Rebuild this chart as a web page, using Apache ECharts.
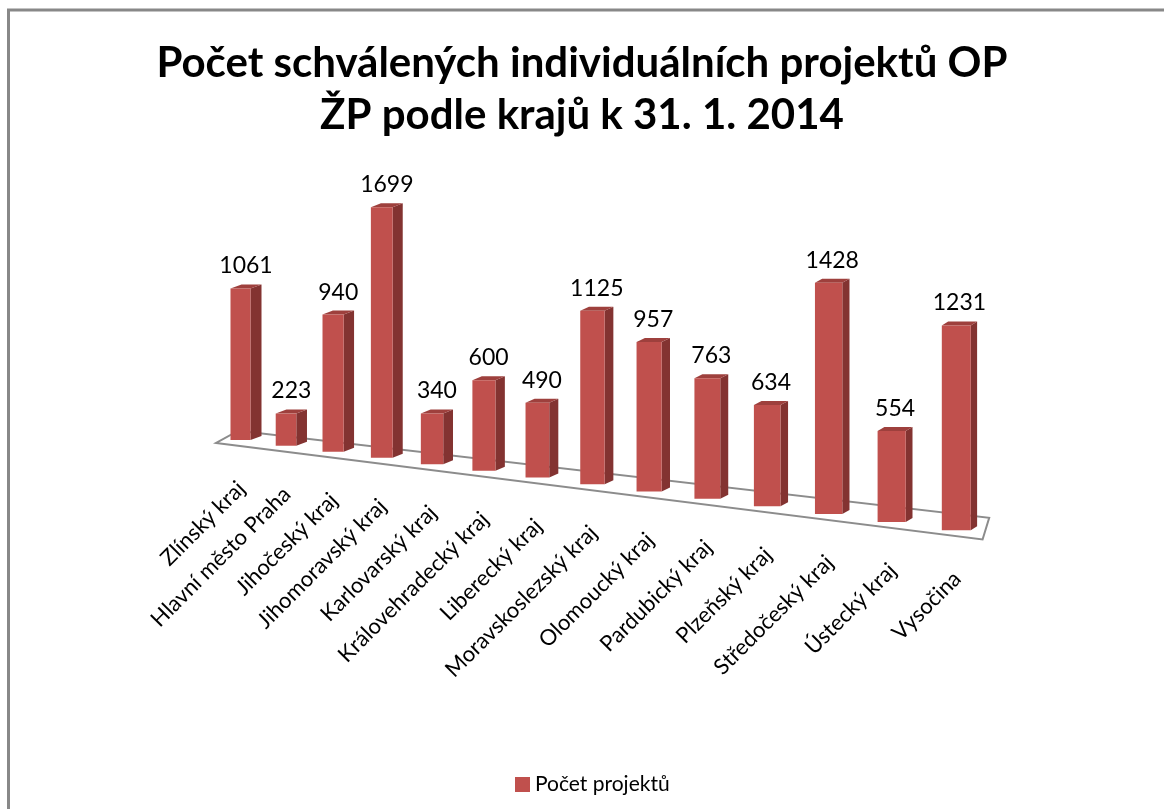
<!DOCTYPE html>
<html><head><meta charset="utf-8">
<script src="https://cdn.jsdelivr.net/npm/echarts@6/dist/echarts.min.js"></script>
<style>html,body{margin:0;padding:0;background:#fff;}#c{width:1164px;height:809px;}</style>
</head><body><div id="c"></div>
<script>
var categories = ['Zlínský kraj','Hlavní město Praha','Jihočeský kraj','Jihomoravský kraj','Karlovarský kraj','Královehradecký kraj','Liberecký kraj','Moravskoslezský kraj','Olomoucký kraj','Pardubický kraj','Plzeňský kraj','Středočeský kraj','Ústecký kraj','Vysočina'];
var values = [1061,223,940,1699,340,600,490,1125,957,763,634,1428,554,1231];
var seriesName = 'Počet projektů';

var FONT = 'Lato, "Open Sans", "Liberation Sans", sans-serif';
var chart = echarts.init(document.getElementById('c'));

// perspective helpers (pixel space, derived from the library's coords)
var SLOPE = 0.126;
function persp(api, i, v) {
  var p0 = api.coord([0, 0]);
  var pb = api.coord([i, 0]);
  var pv = api.coord([i, v]);
  var lin = pb[0] - p0[0];
  var dx = 0.8127 * lin + 0.0002635 * lin * lin;
  var x = p0[0] + dx;
  var baseY = pb[1] + dx * SLOPE;
  var scale = 1 + dx * 0.00023;
  var h = (pb[1] - pv[1]) * scale;
  return {x: x, baseY: baseY, topY: baseY - h, dx: dx};
}

var barData = values.map(function (v, i) { return [i, v]; });

chart.setOption({
  animation: false,
  title: {
    text: 'Počet schválených individuálních projektů OP\nŽP podle krajů k 31. 1. 2014',
    left: 'center', top: 37, padding: [0, 0, 0, 26],
    textStyle: {fontFamily: FONT, fontWeight: 'bold', fontSize: 42, lineHeight: 52, color: '#000'}
  },
  legend: {
    data: [seriesName], left: 510, top: 769, icon: 'rect', itemWidth: 15, itemHeight: 15, itemGap: 8,
    textStyle: {fontFamily: FONT, fontSize: 21, color: '#000'}
  },
  grid: {left: 202, width: 792, bottom: 369, top: 183},
  xAxis: {type: 'value', min: -0.7, max: 13.7, show: false},
  yAxis: {type: 'value', min: 0, max: 1800, show: false},
  graphic: [{
    type: 'rect', silent: true, z: 100,
    shape: {x: 8.5, y: 10, width: 2000, height: 2000},
    style: {fill: 'none', stroke: '#888888', lineWidth: 3}
  }],
  series: [{
    type: 'custom', name: 'floor', silent: true, z: 1,
    data: [[0, 0]],
    renderItem: function (params, api) {
      var fl = persp(api, -0.55, 0), fr = persp(api, 13.4, 0);
      var bl = persp(api, -0.05, 0), br = persp(api, 13.5, 0);
      var pts = [
        [fl.x, fl.baseY + 6],
        [fr.x, fr.baseY + 6],
        [br.x, br.baseY - 9 - br.dx * 0.01],
        [bl.x, bl.baseY - 9]
      ];
      return {type: 'polygon', shape: {points: pts},
        style: {fill: '#ffffff', stroke: '#8c8c8c', lineWidth: 2}};
    }
  }, {
    type: 'custom', name: seriesName, z: 2,
    itemStyle: {color: '#C0504D'},
    data: barData,
    renderItem: function (params, api) {
      var i = api.value(0), v = api.value(1);
      var p = persp(api, i, v);
      var w = 20 + p.dx * 0.0125;
      var d = 11 - p.dx * 0.0065;
      var dy = 4;
      var L = p.x - w / 2, R = p.x + w / 2;
      var children = [
        {type: 'polygon', shape: {points: [[R, p.baseY], [R, p.topY], [R + d, p.topY - dy], [R + d, p.baseY - dy]]},
          style: {fill: '#833331'}},
        {type: 'polygon', shape: {points: [[L, p.topY], [R, p.topY], [R + d, p.topY - dy], [L + d, p.topY - dy]]},
          style: {fill: '#9E403D'}},
        {type: 'rect', shape: {x: L, y: p.topY, width: w, height: p.baseY - p.topY},
          style: {fill: '#C0504D'}},
        {type: 'text', style: {text: String(v), x: p.x + d / 2, y: p.topY - dy - 7,
          textAlign: 'center', textVerticalAlign: 'bottom', fill: '#000', font: '23px ' + FONT}},
        {type: 'text', rotation: Math.PI / 4, x: p.x + 1, y: p.baseY + 45,
          style: {text: categories[i], x: 0, y: 0, textAlign: 'right', textVerticalAlign: 'middle',
            fill: '#000', font: '22px ' + FONT}}
      ];
      return {type: 'group', children: children};
    }
  }]
});
</script></body></html>
